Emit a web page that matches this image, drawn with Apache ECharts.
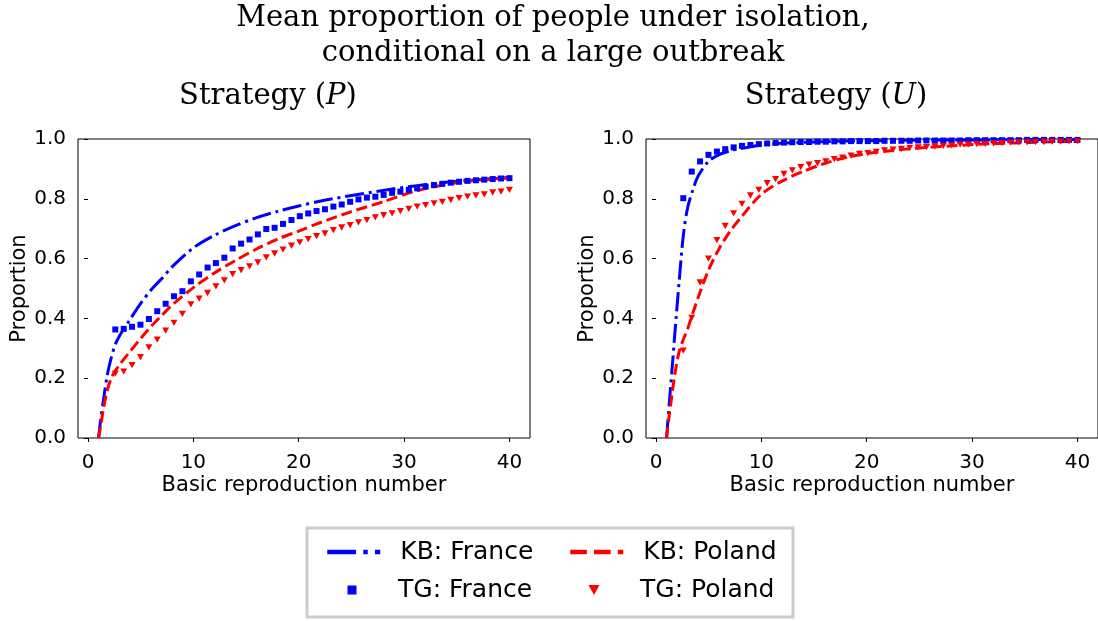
<!DOCTYPE html>
<html>
<head>
<meta charset="utf-8">
<script src="https://cdn.jsdelivr.net/npm/echarts@6/dist/echarts.min.js"></script>
<style>
  html, body { margin: 0; padding: 0; background: #fff; }
  #chart { width: 1098px; height: 621px; }
</style>
</head>
<body>
<div id="chart"></div>
<script>
// R0 grid of the KB (analytic) curves
const kbR0 = [1, 1.2, 1.5, 1.8, 2.2, 2.6, 3, 3.5, 4, 5, 6, 7, 8, 10, 12, 14, 16, 18, 20, 22, 25, 28, 31, 34, 37, 40]

// strategy P, KB curves
const kbFranceP = [0, 0.06, 0.135, 0.205, 0.268, 0.314, 0.342, 0.37, 0.397, 0.45, 0.496, 0.533, 0.573, 0.636, 0.678, 0.71, 0.737, 0.758, 0.776, 0.792, 0.811, 0.828, 0.843, 0.855, 0.864, 0.871]
const kbPolandP = [0, 0.04, 0.105, 0.155, 0.2, 0.225, 0.245, 0.268, 0.29, 0.333, 0.374, 0.41, 0.445, 0.503, 0.552, 0.594, 0.632, 0.665, 0.692, 0.72, 0.757, 0.79, 0.825, 0.848, 0.862, 0.87]

// strategy U, KB curves
const kbFranceU = [0, 0.09, 0.22, 0.355, 0.525, 0.68, 0.77, 0.83, 0.876, 0.926, 0.948, 0.96, 0.968, 0.98, 0.986, 0.989, 0.991, 0.993, 0.994, 0.995, 0.996, 0.997, 0.997, 0.998, 0.998, 0.998]
const kbPolandU = [0, 0.06, 0.14, 0.216, 0.29, 0.33, 0.365, 0.418, 0.47, 0.563, 0.634, 0.69, 0.735, 0.815, 0.86, 0.892, 0.918, 0.938, 0.951, 0.96, 0.97, 0.977, 0.983, 0.987, 0.99, 0.992]

// R0 values of the TG (simulated) points
const tgR0 = [2.59, 3.39, 4.18, 4.98, 5.78, 6.57, 7.37, 8.16, 8.96, 9.76, 10.55, 11.35, 12.14, 12.94, 13.73, 14.53, 15.33, 16.12, 16.92, 17.71, 18.51, 19.31, 20.1, 20.9, 21.69, 22.49, 23.29, 24.08, 24.88, 25.67, 26.47, 27.27, 28.06, 28.86, 29.65, 30.45, 31.24, 32.04, 32.84, 33.63, 34.43, 35.22, 36.02, 36.82, 37.61, 38.41, 39.2, 40]

const tgFranceP = [0.363, 0.365, 0.372, 0.379, 0.398, 0.424, 0.449, 0.474, 0.491, 0.524, 0.547, 0.570, 0.585, 0.603, 0.634, 0.650, 0.664, 0.681, 0.699, 0.703, 0.716, 0.729, 0.742, 0.751, 0.759, 0.765, 0.774, 0.781, 0.790, 0.798, 0.804, 0.807, 0.813, 0.820, 0.824, 0.830, 0.835, 0.841, 0.846, 0.850, 0.854, 0.857, 0.860, 0.862, 0.864, 0.866, 0.868, 0.869]
const tgPolandP = [0.215, 0.222, 0.244, 0.270, 0.303, 0.329, 0.359, 0.385, 0.415, 0.447, 0.466, 0.485, 0.507, 0.527, 0.548, 0.561, 0.574, 0.587, 0.604, 0.617, 0.630, 0.643, 0.654, 0.665, 0.675, 0.684, 0.695, 0.704, 0.712, 0.721, 0.729, 0.738, 0.745, 0.751, 0.759, 0.766, 0.774, 0.779, 0.785, 0.790, 0.796, 0.802, 0.807, 0.811, 0.815, 0.821, 0.824, 0.830]

const tgFranceU = [0.802, 0.891, 0.925, 0.947, 0.958, 0.966, 0.972, 0.977, 0.980, 0.983, 0.985, 0.987, 0.988, 0.989, 0.990, 0.990, 0.991, 0.991, 0.992, 0.992, 0.993, 0.993, 0.993, 0.993, 0.994, 0.994, 0.994, 0.994, 0.995, 0.995, 0.995, 0.995, 0.995, 0.995, 0.996, 0.996, 0.996, 0.996, 0.996, 0.996, 0.996, 0.997, 0.997, 0.997, 0.997, 0.997, 0.997, 0.997]
const tgPolandU = [0.292, 0.402, 0.520, 0.600, 0.662, 0.709, 0.751, 0.783, 0.811, 0.830, 0.852, 0.866, 0.883, 0.895, 0.906, 0.914, 0.919, 0.925, 0.933, 0.938, 0.944, 0.950, 0.953, 0.957, 0.962, 0.964, 0.967, 0.970, 0.972, 0.973, 0.975, 0.977, 0.979, 0.981, 0.982, 0.983, 0.984, 0.985, 0.986, 0.988, 0.989, 0.989, 0.990, 0.990, 0.991, 0.991, 0.992, 0.992]

const xTicks = [0, 10, 20, 30, 40]

const BLUE = '#0000ff'
const RED = '#ff0000'
const sans = 'DejaVu Sans'
const serif = 'DejaVu Serif'
const tri = 'path://M0,0L10,0L5,9Z'
const sq = 'path://M0,0L10,0L10,10L0,10Z'
const dashDot = [19.2, 4.8, 3, 4.8]
const dashed = [11.1, 4.8]

const pairs = (xs, ys) => xs.map((x, i) => [x, ys[i]])

const chart = echarts.init(document.getElementById('chart'))

const makeX = (gridIndex) => ({
  gridIndex,
  type: 'value',
  min: -0.95,
  max: 41.95,
  axisLine: { show: false },
  splitLine: { show: false },
  axisTick: { show: true, customValues: xTicks, length: 4, lineStyle: { color: '#000' } },
  axisLabel: { customValues: xTicks, fontSize: 20, fontFamily: sans, color: '#000', margin: 15 },
  name: 'Basic reproduction number',
  nameLocation: 'middle',
  nameGap: 37,
  nameTextStyle: { fontSize: 21, fontFamily: sans, color: '#000' }
})

const makeY = (gridIndex) => ({
  gridIndex,
  type: 'value',
  min: 0,
  max: 1,
  interval: 0.2,
  axisLine: { show: false },
  splitLine: { show: false },
  axisTick: { show: true, length: 4, lineStyle: { color: '#000' } },
  axisLabel: {
    fontSize: 20, fontFamily: sans, color: '#000', margin: 12,
    formatter: (v) => v.toFixed(1)
  },
  name: 'Proportion',
  nameLocation: 'middle',
  nameGap: 48,
  nameTextStyle: { fontSize: 21, fontFamily: sans, color: '#000' }
})

const kbLine = (name, g, ys, color, dash) => ({
  name, type: 'line', xAxisIndex: g, yAxisIndex: g,
  data: pairs(kbR0, ys),
  symbol: 'none', smooth: 0.3,
  lineStyle: { color, width: 3, type: dash },
  itemStyle: { color },
  z: 2
})

const tgPoints = (name, g, ys, color, symbol, size) => ({
  name, type: 'scatter', xAxisIndex: g, yAxisIndex: g,
  data: pairs(tgR0, ys),
  symbol, symbolSize: size,
  itemStyle: { color, opacity: 1 },
  z: 3
})

const legendText = (pad) => ({ fontSize: 25, fontFamily: sans, color: '#000', padding: [0, 0, 0, pad] })
const legendBase = { orient: 'horizontal', padding: 0, selectedMode: false }

const option = {
  animation: false,
  backgroundColor: '#fff',
  grid: [
    { left: 78, top: 139, width: 452, height: 299, show: true, borderColor: '#000', borderWidth: 1 },
    { left: 646, top: 139, width: 453, height: 299, show: true, borderColor: '#000', borderWidth: 1 }
  ],
  xAxis: [makeX(0), makeX(1)],
  yAxis: [makeY(0), makeY(1)],
  legend: [
    Object.assign({}, legendBase, {
      data: ['KB: France'], left: 325, top: 539.5, itemWidth: 53, itemHeight: 1,
      itemStyle: { color: 'rgba(0,0,0,0)', opacity: 0 },
      lineStyle: { color: BLUE, width: 4.5, type: [28.8, 7.2, 4.5, 7.2] },
      textStyle: legendText(15)
    }),
    Object.assign({}, legendBase, {
      data: ['KB: Poland'], left: 568, top: 539.5, itemWidth: 53, itemHeight: 1,
      itemStyle: { color: 'rgba(0,0,0,0)', opacity: 0 },
      lineStyle: { color: RED, width: 4.5, type: [16.6, 7.2] },
      textStyle: legendText(15)
    }),
    Object.assign({}, legendBase, {
      data: [{ name: 'TG: France', icon: sq }], left: 347.5, top: 577.5, itemWidth: 9, itemHeight: 9,
      textStyle: legendText(36.5)
    }),
    Object.assign({}, legendBase, {
      data: [{ name: 'TG: Poland', icon: tri }], left: 588.5, top: 577.5, itemWidth: 11, itemHeight: 10,
      textStyle: legendText(35.5)
    })
  ],
  graphic: [
    {
      type: 'text', x: 553, y: 18,
      style: { text: 'Mean proportion of people under isolation,', fontSize: 29, fontFamily: serif, fill: '#000', align: 'center', verticalAlign: 'middle' }
    },
    {
      type: 'text', x: 553, y: 53,
      style: { text: 'conditional on a large outbreak', fontSize: 29, fontFamily: serif, fill: '#000', align: 'center', verticalAlign: 'middle' }
    },
    {
      type: 'text', x: 268, y: 96,
      style: {
        text: 'Strategy ({i|P})', fontSize: 29, fontFamily: serif, fill: '#000', align: 'center', verticalAlign: 'middle',
        rich: { i: { fontSize: 29, fontFamily: serif, fontStyle: 'italic', fill: '#000' } }
      }
    },
    {
      type: 'text', x: 836, y: 96,
      style: {
        text: 'Strategy ({i|U})', fontSize: 29, fontFamily: serif, fill: '#000', align: 'center', verticalAlign: 'middle',
        rich: { i: { fontSize: 29, fontFamily: serif, fontStyle: 'italic', fill: '#000' } }
      }
    },
    {
      type: 'rect', z: -10,
      shape: { x: 307, y: 528, width: 486, height: 89 },
      style: { fill: '#fff', stroke: '#cccccc', lineWidth: 3 }
    }
  ],
  series: [
    kbLine('KB: France', 0, kbFranceP, BLUE, dashDot),
    kbLine('KB: Poland', 0, kbPolandP, RED, dashed),
    tgPoints('TG: France', 0, tgFranceP, BLUE, sq, 6),
    tgPoints('TG: Poland', 0, tgPolandP, RED, tri, [7, 6.3]),
    kbLine('KB: France', 1, kbFranceU, BLUE, dashDot),
    kbLine('KB: Poland', 1, kbPolandU, RED, dashed),
    tgPoints('TG: France', 1, tgFranceU, BLUE, sq, 6),
    tgPoints('TG: Poland', 1, tgPolandU, RED, tri, [7, 6.3])
  ]
}

chart.setOption(option)
</script>
</body>
</html>
